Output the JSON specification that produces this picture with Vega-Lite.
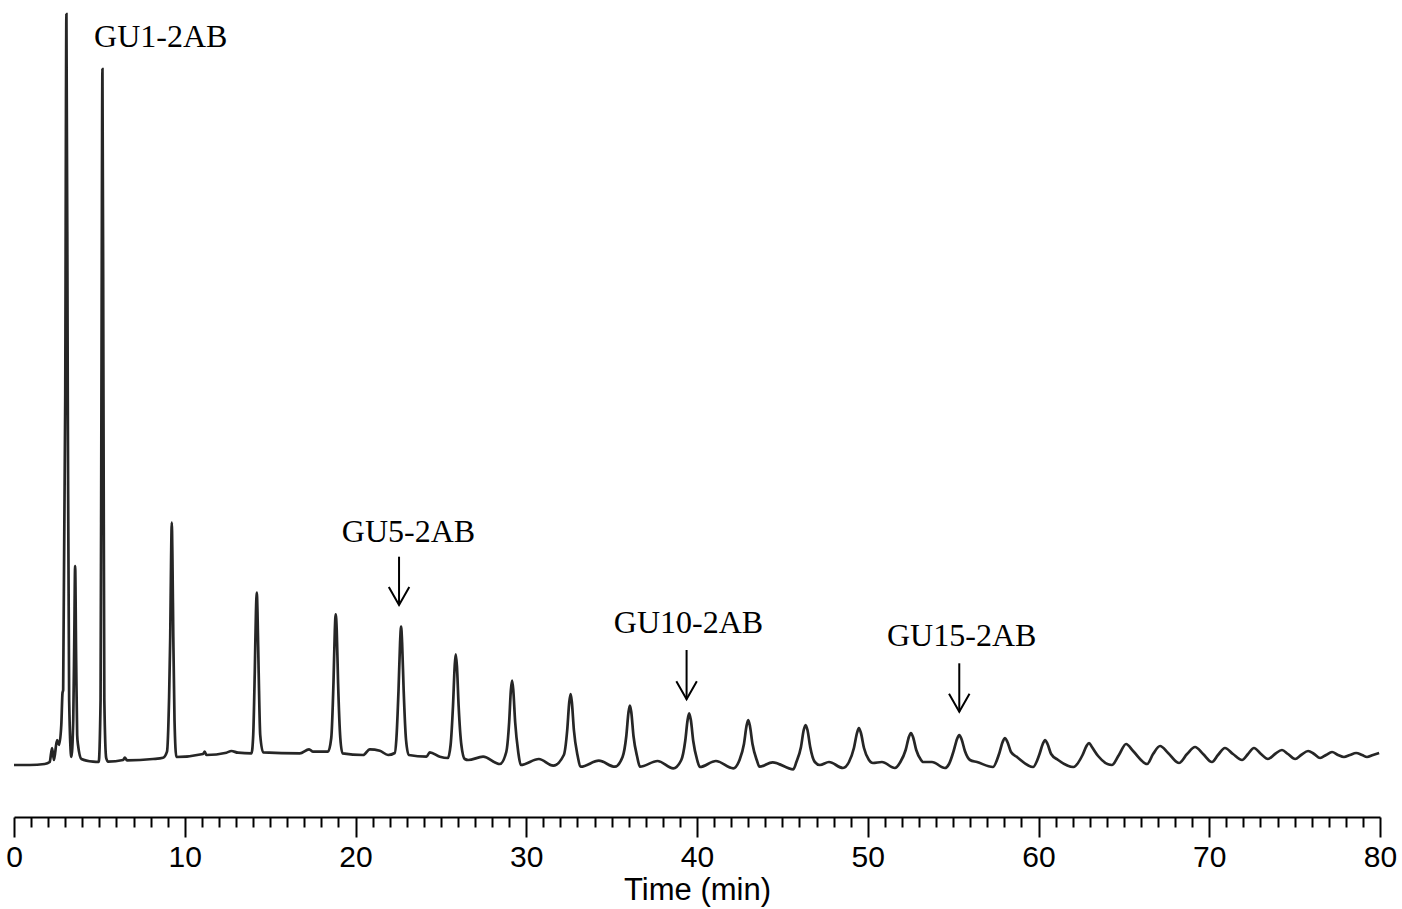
{
  "$schema": "https://vega.github.io/schema/vega-lite/v6.json",
  "description": "HILIC chromatogram of a 2-AB labelled glucose ladder",
  "width": 1366,
  "height": 817,
  "autosize": {"type": "none"},
  "padding": {"left": 14, "top": 0, "right": 22, "bottom": 92},
  "config": {
    "view": {"stroke": null},
    "axis": {"grid": false}
  },
  "datasets": {
    "trace": [
      {"time": 0, "signal": 52}, {"time": 0.92, "signal": 52}, {"time": 1.8, "signal": 53}, {"time": 2.09, "signal": 55},
      {"time": 2.23, "signal": 69}, {"time": 2.34, "signal": 57}, {"time": 2.52, "signal": 77}, {"time": 2.64, "signal": 72},
      {"time": 2.77, "signal": 92}, {"time": 2.84, "signal": 124}, {"time": 2.88, "signal": 127},
      {"time": 3.0, "signal": 417}, {"time": 3.07, "signal": 803}, {"time": 3.15, "signal": 417}, {"time": 3.23, "signal": 117},
      {"time": 3.36, "signal": 60},
      {"time": 3.47, "signal": 97}, {"time": 3.53, "signal": 177}, {"time": 3.58, "signal": 251}, {"time": 3.64, "signal": 157},
      {"time": 3.7, "signal": 82}, {"time": 3.75, "signal": 72}, {"time": 3.95, "signal": 58}, {"time": 4.63, "signal": 55.3},
      {"time": 4.96, "signal": 55},
      {"time": 5.07, "signal": 117}, {"time": 5.12, "signal": 417}, {"time": 5.18, "signal": 748}, {"time": 5.24, "signal": 417},
      {"time": 5.29, "signal": 117}, {"time": 5.4, "signal": 59}, {"time": 5.51, "signal": 55.3},
      {"time": 6.39, "signal": 57}, {"time": 6.49, "signal": 59.3}, {"time": 6.62, "signal": 56.7},
      {"time": 8.14, "signal": 58}, {"time": 8.73, "signal": 59.3}, {"time": 8.96, "signal": 65.3},
      {"time": 9.08, "signal": 117}, {"time": 9.15, "signal": 180}, {"time": 9.2, "signal": 257}, {"time": 9.24, "signal": 294.3},
      {"time": 9.28, "signal": 257}, {"time": 9.33, "signal": 180}, {"time": 9.4, "signal": 97}, {"time": 9.51, "signal": 60},
      {"time": 11.07, "signal": 63}, {"time": 11.17, "signal": 65.3}, {"time": 11.27, "signal": 62},
      {"time": 12.44, "signal": 64.3}, {"time": 12.73, "signal": 66}, {"time": 13.12, "signal": 64.3}, {"time": 13.91, "signal": 63.7},
      {"time": 14.01, "signal": 82}, {"time": 14.1, "signal": 144}, {"time": 14.17, "signal": 205}, {"time": 14.22, "signal": 224.3},
      {"time": 14.26, "signal": 205}, {"time": 14.33, "signal": 144}, {"time": 14.42, "signal": 82}, {"time": 14.59, "signal": 64.7},
      {"time": 16.74, "signal": 63.7}, {"time": 17.28, "signal": 67.7}, {"time": 17.52, "signal": 65.3}, {"time": 18.39, "signal": 65.3},
      {"time": 18.58, "signal": 79}, {"time": 18.71, "signal": 134}, {"time": 18.79, "signal": 187}, {"time": 18.84, "signal": 202.7},
      {"time": 18.9, "signal": 187}, {"time": 18.98, "signal": 134}, {"time": 19.11, "signal": 79}, {"time": 19.24, "signal": 63.7},
      {"time": 20.45, "signal": 62}, {"time": 20.84, "signal": 67.7}, {"time": 21.42, "signal": 66.3}, {"time": 21.91, "signal": 62},
      {"time": 22.3, "signal": 64},
      {"time": 22.39, "signal": 77}, {"time": 22.52, "signal": 127}, {"time": 22.61, "signal": 174}, {"time": 22.67, "signal": 190.3},
      {"time": 22.73, "signal": 174}, {"time": 22.82, "signal": 127}, {"time": 22.96, "signal": 77}, {"time": 23.12, "signal": 62},
      {"time": 24.16, "signal": 60.3}, {"time": 24.35, "signal": 64.7}, {"time": 24.94, "signal": 60.3}, {"time": 25.41, "signal": 59},
      {"time": 25.57, "signal": 72}, {"time": 25.71, "signal": 111}, {"time": 25.81, "signal": 151}, {"time": 25.87, "signal": 162.7},
      {"time": 25.94, "signal": 151}, {"time": 26.04, "signal": 111}, {"time": 26.2, "signal": 72}, {"time": 26.4, "signal": 58},
      {"time": 26.6, "signal": 57}, {"time": 27.47, "signal": 60.3}, {"time": 28.45, "signal": 53},
      {"time": 28.83, "signal": 65}, {"time": 29.0, "signal": 95}, {"time": 29.1, "signal": 127}, {"time": 29.17, "signal": 136.3},
      {"time": 29.24, "signal": 127}, {"time": 29.35, "signal": 95}, {"time": 29.53, "signal": 65}, {"time": 29.68, "signal": 52},
      {"time": 30.74, "signal": 58}, {"time": 31.58, "signal": 51.3},
      {"time": 32.2, "signal": 62}, {"time": 32.4, "signal": 87}, {"time": 32.52, "signal": 115}, {"time": 32.6, "signal": 123},
      {"time": 32.67, "signal": 115}, {"time": 32.79, "signal": 87}, {"time": 33.0, "signal": 62}, {"time": 33.2, "signal": 50.3},
      {"time": 34.25, "signal": 56.3}, {"time": 35.19, "signal": 50.3},
      {"time": 35.64, "signal": 60}, {"time": 35.86, "signal": 81}, {"time": 35.99, "signal": 105}, {"time": 36.07, "signal": 111.3},
      {"time": 36.15, "signal": 105}, {"time": 36.28, "signal": 81}, {"time": 36.5, "signal": 60}, {"time": 36.66, "signal": 50.3},
      {"time": 37.69, "signal": 56}, {"time": 38.61, "signal": 48.7},
      {"time": 39.08, "signal": 57}, {"time": 39.31, "signal": 76}, {"time": 39.45, "signal": 97}, {"time": 39.54, "signal": 103.7},
      {"time": 39.64, "signal": 97}, {"time": 39.78, "signal": 76}, {"time": 40.01, "signal": 57}, {"time": 40.17, "signal": 50},
      {"time": 41.11, "signal": 56}, {"time": 42.12, "signal": 48.7},
      {"time": 42.49, "signal": 57}, {"time": 42.75, "signal": 73}, {"time": 42.9, "signal": 91}, {"time": 43.0, "signal": 97},
      {"time": 43.1, "signal": 91}, {"time": 43.25, "signal": 73}, {"time": 43.5, "signal": 57}, {"time": 43.66, "signal": 50.3},
      {"time": 44.43, "signal": 54.7}, {"time": 45.64, "signal": 47.7},
      {"time": 45.82, "signal": 55}, {"time": 46.09, "signal": 70}, {"time": 46.25, "signal": 87}, {"time": 46.36, "signal": 92},
      {"time": 46.47, "signal": 87}, {"time": 46.63, "signal": 70}, {"time": 46.9, "signal": 55}, {"time": 47.2, "signal": 52},
      {"time": 47.73, "signal": 55}, {"time": 48.55, "signal": 49},
      {"time": 48.9, "signal": 55}, {"time": 49.19, "signal": 69}, {"time": 49.37, "signal": 84}, {"time": 49.48, "signal": 89},
      {"time": 49.6, "signal": 84}, {"time": 49.78, "signal": 69}, {"time": 50.07, "signal": 57}, {"time": 50.3, "signal": 54},
      {"time": 50.83, "signal": 55}, {"time": 51.59, "signal": 49},
      {"time": 51.91, "signal": 55}, {"time": 52.22, "signal": 67}, {"time": 52.41, "signal": 80}, {"time": 52.53, "signal": 84},
      {"time": 52.65, "signal": 80}, {"time": 52.84, "signal": 67}, {"time": 53.12, "signal": 57}, {"time": 53.23, "signal": 55},
      {"time": 53.76, "signal": 55}, {"time": 54.52, "signal": 49},
      {"time": 54.76, "signal": 53}, {"time": 55.03, "signal": 66}, {"time": 55.23, "signal": 78}, {"time": 55.36, "signal": 82},
      {"time": 55.49, "signal": 78}, {"time": 55.69, "signal": 66}, {"time": 55.99, "signal": 57}, {"time": 56.4, "signal": 55},
      {"time": 57.33, "signal": 50},
      {"time": 57.69, "signal": 63}, {"time": 57.9, "signal": 75}, {"time": 58.04, "signal": 79}, {"time": 58.18, "signal": 75},
      {"time": 58.39, "signal": 65}, {"time": 58.74, "signal": 60}, {"time": 59.68, "signal": 50},
      {"time": 60.04, "signal": 62}, {"time": 60.25, "signal": 73}, {"time": 60.39, "signal": 77}, {"time": 60.53, "signal": 73},
      {"time": 60.74, "signal": 63}, {"time": 61.15, "signal": 57}, {"time": 62.04, "signal": 50},
      {"time": 62.58, "signal": 62}, {"time": 62.81, "signal": 71}, {"time": 62.96, "signal": 74}, {"time": 63.13, "signal": 70},
      {"time": 63.49, "signal": 61}, {"time": 64.3, "signal": 52},
      {"time": 64.71, "signal": 62}, {"time": 65.13, "signal": 73}, {"time": 65.54, "signal": 66}, {"time": 66.36, "signal": 53},
      {"time": 66.71, "signal": 63}, {"time": 67.12, "signal": 71}, {"time": 67.59, "signal": 64}, {"time": 68.23, "signal": 54},
      {"time": 68.7, "signal": 63}, {"time": 69.17, "signal": 70}, {"time": 69.64, "signal": 63}, {"time": 70.16, "signal": 55},
      {"time": 70.51, "signal": 62}, {"time": 70.92, "signal": 69}, {"time": 71.39, "signal": 63}, {"time": 71.92, "signal": 57},
      {"time": 72.27, "signal": 63}, {"time": 72.62, "signal": 69}, {"time": 73.03, "signal": 63}, {"time": 73.44, "signal": 58},
      {"time": 73.85, "signal": 63}, {"time": 74.26, "signal": 67}, {"time": 74.61, "signal": 63}, {"time": 75.03, "signal": 58},
      {"time": 75.38, "signal": 62}, {"time": 75.79, "signal": 66}, {"time": 76.14, "signal": 63}, {"time": 76.49, "signal": 59},
      {"time": 76.84, "signal": 62}, {"time": 77.19, "signal": 65}, {"time": 77.54, "signal": 62}, {"time": 77.89, "signal": 60},
      {"time": 78.24, "signal": 62}, {"time": 78.6, "signal": 64}, {"time": 78.95, "signal": 62}, {"time": 79.24, "signal": 60},
      {"time": 79.59, "signal": 62}, {"time": 79.95, "signal": 64}
    ],
    "labels": [
      {"time": 8.59, "signal": 770, "text": "GU1-2AB"},
      {"time": 23.1, "signal": 275, "text": "GU5-2AB"},
      {"time": 39.5, "signal": 184, "text": "GU10-2AB"},
      {"time": 55.5, "signal": 171, "text": "GU15-2AB"}
    ],
    "arrows": [
      {"time": 22.55, "top": 260.3, "tip": 212},
      {"time": 39.39, "top": 167, "tip": 117.7},
      {"time": 55.36, "top": 153.7, "tip": 105.3}
    ]
  },
  "encoding": {
    "x": {
      "field": "time",
      "type": "quantitative",
      "scale": {"domain": [0, 80], "nice": false, "zero": false},
      "axis": {
        "title": "Time (min)",
        "values": [0,1,2,3,4,5,6,7,8,9,10,11,12,13,14,15,16,17,18,19,20,21,22,23,24,25,26,27,28,29,30,31,32,33,34,35,36,37,38,39,40,41,42,43,44,45,46,47,48,49,50,51,52,53,54,55,56,57,58,59,60,61,62,63,64,65,66,67,68,69,70,71,72,73,74,75,76,77,78,79,80],
        "labelExpr": "datum.value % 10 === 0 ? datum.label : ''",
        "labelFont": "Liberation Sans",
        "labelFontSize": 30,
        "labelColor": "black",
        "labelBaseline": "alphabetic",
        "labelPadding": 29,
        "labelOverlap": false,
        "labelFlush": false,
        "domainColor": "black",
        "domainWidth": 2,
        "tickColor": "black",
        "tickWidth": 2,
        "tickSize": {"condition": {"test": "datum.value % 10 === 0", "value": 20}, "value": 10},
        "titleFont": "Liberation Sans",
        "titleFontSize": 31,
        "titleFontWeight": "normal",
        "titleColor": "black",
        "titleBaseline": "alphabetic",
        "titleY": 82
      }
    }
  },
  "layer": [
    {
      "data": {"name": "trace"},
      "mark": {"type": "line", "interpolate": "monotone", "color": "#262626", "strokeWidth": 2.7},
      "encoding": {
        "y": {"field": "signal", "type": "quantitative", "scale": {"domain": [0, 817], "nice": false}, "axis": null}
      }
    },
    {
      "data": {"name": "arrows"},
      "mark": {"type": "rule", "color": "black", "strokeWidth": 2},
      "encoding": {
        "y": {"field": "top", "type": "quantitative"},
        "y2": {"field": "tip"}
      }
    },
    {
      "data": {"name": "arrows"},
      "mark": {"type": "point", "shape": "M-1,-1.75L0,0L1,-1.75", "size": 420, "filled": false, "color": "black", "strokeWidth": 2, "opacity": 1},
      "encoding": {
        "y": {"field": "tip", "type": "quantitative"}
      }
    },
    {
      "data": {"name": "labels"},
      "mark": {"type": "text", "font": "Liberation Serif", "fontSize": 32, "baseline": "alphabetic", "align": "center", "color": "black"},
      "encoding": {
        "y": {"field": "signal", "type": "quantitative"},
        "text": {"field": "text"}
      }
    }
  ]
}
